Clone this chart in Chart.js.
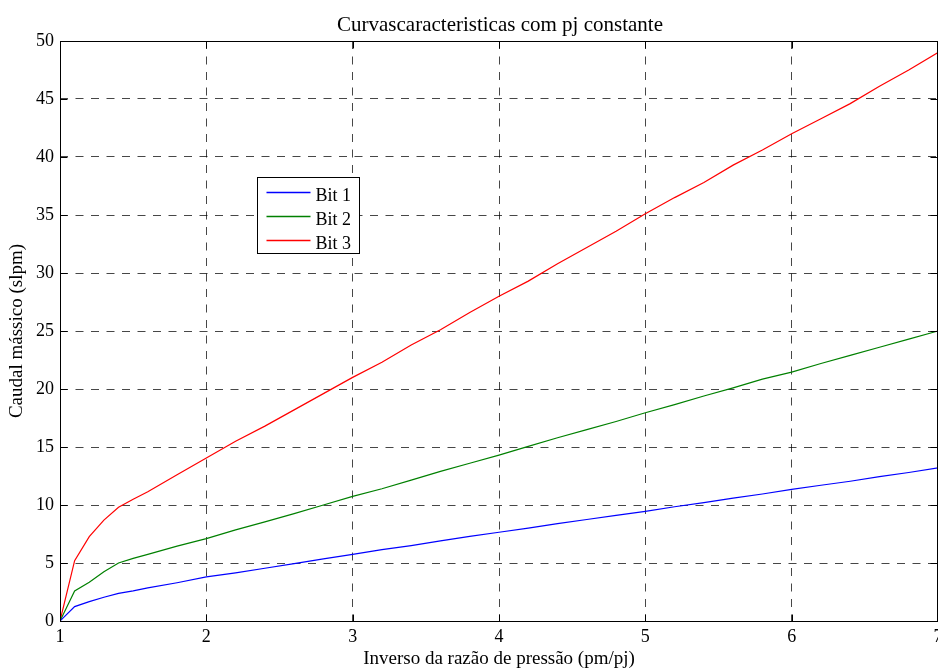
<!DOCTYPE html>
<html>
<head>
<meta charset="utf-8">
<script src="https://cdn.jsdelivr.net/npm/chart.js@4/dist/chart.umd.min.js"></script>
<style>
  html, body { margin: 0; padding: 0; background: #fff; overflow: hidden; }
  #wrap { width: 938px; height: 669px; position: relative; }
</style>
</head>
<body>
<div id="wrap"><canvas id="chart"></canvas></div>
<script>
// pressure ratio (pm/pj)
const xValues = [1, 1.1, 1.2, 1.3, 1.4, 1.5, 1.6, 1.8, 2, 2.2, 2.4, 2.6, 2.8, 3, 3.2, 3.4, 3.6, 3.8, 4,
  4.2, 4.4, 4.6, 4.8, 5, 5.2, 5.4, 5.6, 5.8, 6, 6.2, 6.4, 6.6, 6.8, 7];
// mass flow (slpm)
const bit1 = [0, 1.24, 1.67, 2.05, 2.38, 2.6, 2.85, 3.3, 3.8, 4.15, 4.55, 4.95, 5.35, 5.75, 6.15, 6.5, 6.9, 7.3, 7.65,
  8.0, 8.4, 8.75, 9.1, 9.45, 9.85, 10.2, 10.6, 10.95, 11.35, 11.7, 12.05, 12.45, 12.8, 13.2];
const bit2 = [0, 2.59, 3.35, 4.25, 5.0, 5.4, 5.75, 6.45, 7.1, 7.85, 8.55, 9.25, 10.0, 10.75, 11.4, 12.15, 12.9, 13.6, 14.3,
  15.05, 15.8, 16.5, 17.2, 17.95, 18.65, 19.4, 20.1, 20.85, 21.45, 22.2, 22.9, 23.6, 24.3, 25.0];
const bit3 = [0, 5.2, 7.27, 8.7, 9.8, 10.5, 11.15, 12.6, 14.05, 15.5, 16.8, 18.2, 19.6, 21.0, 22.3, 23.8, 25.1, 26.6, 28.0,
  29.3, 30.8, 32.2, 33.6, 35.1, 36.5, 37.8, 39.3, 40.6, 42.0, 43.3, 44.6, 46.1, 47.5, 49.0];
const seriesNames = ['Bit 1', 'Bit 2', 'Bit 3'];
const seriesColors = ['#0000ff', '#008000', '#ff0000'];
const chartTitle = 'Curvascaracteristicas com pj constante';

const FONT = "'Liberation Serif', 'Times New Roman', serif";
Chart.defaults.font.family = FONT;
Chart.defaults.font.size = 18;
Chart.defaults.color = '#000';

const toPoints = arr => arr.map((v, i) => ({ x: xValues[i], y: v }));
const datasets = [bit1, bit2, bit3].map((arr, i) => ({
  label: seriesNames[i],
  data: toPoints(arr),
  borderColor: seriesColors[i],
  backgroundColor: seriesColors[i],
  borderWidth: 1.2,
  pointRadius: 0,
  tension: 0,
}));

// matlab-like frame, inner ticks, title and the legend box
const frame = {
  id: 'frame',
  afterDraw(chart) {
    const { ctx, chartArea: a, scales } = chart;
    ctx.save();
    ctx.strokeStyle = '#000';
    ctx.lineWidth = 1;
    const L = Math.round(a.left) + 0.5, T = Math.round(a.top) + 0.5;
    const R = Math.round(a.right) - 0.5, B = Math.round(a.bottom) + 0.5;
    ctx.strokeRect(L, T, R - L, B - T);
    const tl = 7;
    ctx.beginPath();
    scales.x.ticks.forEach(t => {
      const px = Math.round(scales.x.getPixelForValue(t.value)) + 0.5;
      ctx.moveTo(px, B); ctx.lineTo(px, B - tl);
      ctx.moveTo(px, T); ctx.lineTo(px, T + tl);
    });
    scales.y.ticks.forEach(t => {
      const py = Math.round(scales.y.getPixelForValue(t.value)) + 0.5;
      ctx.moveTo(L, py); ctx.lineTo(L + tl, py);
      ctx.moveTo(R, py); ctx.lineTo(R - tl, py);
    });
    ctx.stroke();

    // title over the plot area
    ctx.fillStyle = '#000';
    ctx.font = '21px ' + FONT;
    ctx.textAlign = 'center';
    ctx.textBaseline = 'alphabetic';
    ctx.fillText(chartTitle, (a.left + a.right) / 2 + 1, 31);

    // legend
    const lx = Math.round(a.left + 197) + 0.5, ly = Math.round(a.top + 136) + 0.5;
    const lw = 102, lh = 76;
    ctx.fillStyle = '#fff';
    ctx.fillRect(lx, ly, lw, lh);
    ctx.strokeStyle = '#000';
    ctx.lineWidth = 1;
    ctx.strokeRect(lx, ly, lw, lh);
    ctx.font = '18px ' + FONT;
    ctx.textAlign = 'left';
    seriesNames.forEach((name, i) => {
      const ry = Math.round(ly + 14 + i * 24) + 0.5;
      ctx.strokeStyle = seriesColors[i];
      ctx.lineWidth = 1.3;
      ctx.beginPath();
      ctx.moveTo(lx + 9, ry); ctx.lineTo(lx + 53, ry);
      ctx.stroke();
      ctx.fillStyle = '#000';
      ctx.fillText(name, lx + 58, ry + 8);
    });
    ctx.restore();
  }
};

const gridStyle = {
  color: 'rgba(0,0,0,0.72)',
  lineWidth: 1,
  drawTicks: false,
  tickLength: 0,
};

new Chart(document.getElementById('chart'), {
  type: 'line',
  data: { datasets },
  options: {
    responsive: true,
    maintainAspectRatio: false,
    animation: false,
    layout: { padding: { left: 0, right: 0, top: 41, bottom: 0 }, autoPadding: false },
    plugins: {
      legend: { display: false },
      tooltip: { enabled: false },
      title: { display: false },
    },
    scales: {
      x: {
        type: 'linear',
        min: 1,
        max: 7,
        ticks: { stepSize: 1, padding: 5, maxRotation: 0 },
        grid: gridStyle,
        border: { display: false, dash: [8, 7.5] },
        title: {
          display: true,
          text: 'Inverso da razão de pressão (pm/pj)',
          font: { size: 19, lineHeight: 1 },
          padding: { top: 0, bottom: 0 },
        },
        afterFit(scale) {
          scale.height = 48;
          scale.paddingLeft = 0;
          scale.paddingRight = 0;
        },
      },
      y: {
        min: 0,
        max: 50,
        ticks: { stepSize: 5, padding: 6 },
        grid: gridStyle,
        border: { display: false, dash: [8, 7.5] },
        title: {
          display: true,
          text: 'Caudal mássico (slpm)',
          font: { size: 19, lineHeight: 1.2 },
          padding: { top: 6, bottom: 0 },
        },
        afterFit(scale) {
          scale.width = 60;
          scale.paddingTop = 0;
          scale.paddingBottom = 0;
        },
      },
    },
  },
  plugins: [frame],
});
</script>
</body>
</html>
